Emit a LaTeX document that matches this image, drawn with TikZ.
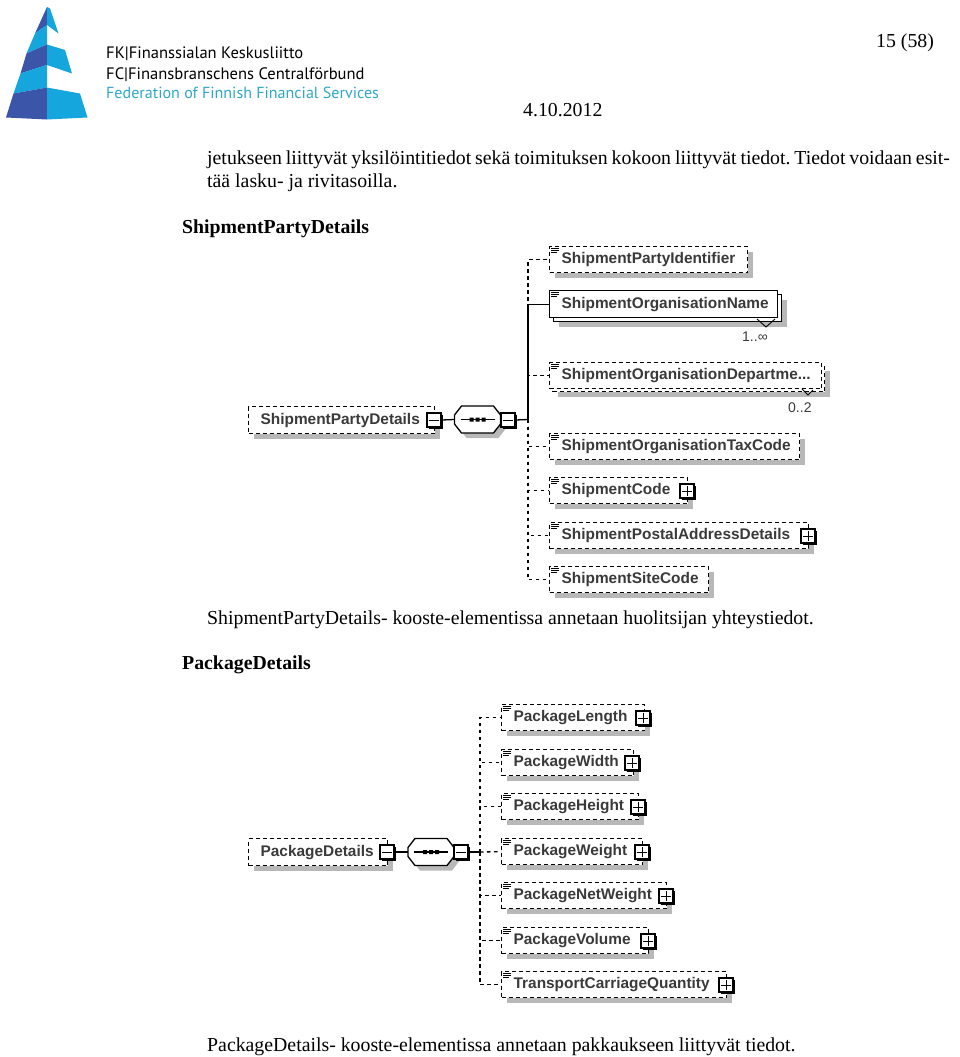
\documentclass[tikz,border=0pt]{standalone}
\usepackage{fontspec}
\setmainfont{Liberation Serif}
\newfontfamily\diagfont{Liberation Sans}
\newfontfamily\logofont{PT Sans}
\usetikzlibrary{shadows}
\definecolor{shadowgray}{HTML}{B8B8B8}
\definecolor{labelgray}{HTML}{3A3A3A}
\definecolor{logodark}{HTML}{3B56A8}
\definecolor{logolight}{HTML}{16A6DE}
\definecolor{logotext}{HTML}{2FA8C8}
\tikzset{
  softshadow/.style={drop shadow={shadow xshift=5pt,shadow yshift=-5pt,fill=shadowgray,opacity=1}},
  elbase/.style={draw=black,fill=white,line width=1.3pt,inner sep=0pt,font=\diagfont\bfseries\fontsize{15.4}{15.4}\selectfont,text=labelgray},
  frontopt/.style={elbase,dash pattern=on 4pt off 3pt},
  frontreq/.style={elbase},
  optbox/.style={frontopt,softshadow},
  reqbox/.style={frontreq,softshadow},
  rootbox/.style={optbox},
  seqanchor/.style={minimum width=46pt,minimum height=27pt,inner sep=0pt},
  seqoutline/.style={draw=black,fill=white,line width=1.3pt},
  togglebox/.style={draw=black,fill=white,line width=1.2pt,minimum width=14pt,minimum height=14pt,inner sep=0pt,drop shadow={shadow xshift=1.5pt,shadow yshift=-1.5pt,fill=black,opacity=1}},
  conn/.style={draw=black,line width=1.3pt},
  dconn/.style={conn,dash pattern=on 3.5pt off 3.5pt},
  bodytext/.style={anchor=base west,inner sep=0pt,font=\fontsize{19.8}{22}\selectfont},
  headtext/.style={bodytext,font=\bfseries\fontsize{19.8}{22}\selectfont},
  logotxt/.style={anchor=base west,inner sep=0pt,font=\logofont\fontsize{16.55}{20}\selectfont},
  occ/.style={anchor=base west,inner sep=0pt,font=\diagfont\fontsize{14}{14}\selectfont,text=labelgray},
}
% \elem{style}{name}{x1}{y1}{x2}{y2}{text}
\newcommand{\elem}[7]{%
  \pgfmathsetmacro{\ew}{#5-#3}\pgfmathsetmacro{\eh}{#6-#4}%
  \node[#1,anchor=north west,minimum height=\eh pt] (#2) at (#3,#4) {\makebox[\ew pt][l]{\hspace{12pt}\raisebox{-1pt}{#7}}};%
}
\newcommand{\elicon}[1]{%
  \draw[black,line width=1pt] ([shift={(2pt,-2.5pt)}]#1.north west) -- +(8pt,0pt)
    ([shift={(2pt,-4.6pt)}]#1.north west) -- +(8pt,0pt)
    ([shift={(2pt,-6.7pt)}]#1.north west) -- +(6pt,0pt);%
}
\newcommand{\minusbox}[3]{%
  \node[togglebox] (#1) at (#2,#3) {};
  \draw[black,line width=1pt] ([xshift=-5pt]#1.center) -- ([xshift=5pt]#1.center);%
}
\newcommand{\plusbox}[3]{%
  \node[togglebox] (#1) at (#2,#3) {};
  \draw[black,line width=1pt] ([xshift=-5pt]#1.center) -- ([xshift=5pt]#1.center)
    ([yshift=-5pt]#1.center) -- ([yshift=5pt]#1.center);%
}
% sequence compositor: invisible named node with an octagon drawn on it
\newcommand{\seqnode}[3]{%
  \fill[shadowgray,shift={(#2+5,#3+5)}] (-16,-13.5) -- (16,-13.5) -- (23,-4.5) -- (23,4.5) -- (16,13.5) -- (-16,13.5) -- (-23,4.5) -- (-23,-4.5) -- cycle;
  \path[seqoutline,shift={(#2,#3)}] (-16,-13.5) -- (16,-13.5) -- (23,-4.5) -- (23,4.5) -- (16,13.5) -- (-16,13.5) -- (-23,4.5) -- (-23,-4.5) -- cycle;
  \node[seqanchor] (#1) at (#2,#3) {};
  \draw[black,line width=1.2pt] ([xshift=-17pt]#1.center) -- ([xshift=17pt]#1.center);
  \fill[black] ([xshift=-6pt]#1.center) +(-2pt,-2pt) rectangle +(2pt,2pt)
    (#1.center) +(-2pt,-2pt) rectangle +(2pt,2pt)
    ([xshift=6pt]#1.center) +(-2pt,-2pt) rectangle +(2pt,2pt);%
}
\begin{document}
\begin{tikzpicture}[x=1pt,y=-1pt]
\useasboundingbox (0,0) rectangle (960,1057);
% logo
\fill[logodark] (47,7) -- (47,25) -- (35,33.5) -- cycle;
\fill[logolight] (47,7) -- (50,8.5) -- (58.5,33.5) -- (47,25) -- cycle;
\fill[logolight] (35,33.5) -- (47,25) -- (47,44.5) -- (26.5,53.5) -- cycle;
\fill[logodark] (47,44.5) -- (26.5,53.5) -- (20.5,73.5) -- (47,65) -- cycle;
\fill[logolight] (47,44.5) -- (65,50) -- (72,73.5) -- (47,65) -- cycle;
\fill[logolight] (20.5,73.5) -- (47,65) -- (47,87.5) -- (13.5,93.5) -- cycle;
\fill[logodark] (47,87.5) -- (13.5,93.5) -- (6,117.5) -- (47,119.5) -- cycle;
\fill[logolight] (47,87.5) -- (80,93.5) -- (87.5,117.5) -- (47,119.5) -- cycle;
\node[logotxt] (logoa) at (106,59) {FK|Finanssialan Keskusliitto};
\node[logotxt] (logob) at (106,79) {FC|Finansbranschens Centralförbund};
\node[logotxt,text=logotext,font=\logofont\fontsize{16.05}{20}\selectfont] (logoc) at (106,98.5) {Federation of Finnish Financial Services};
% page text
\node[bodytext] (page) at (876,48) {15 (58)};
\node[bodytext] (date) at (523,116) {4.10.2012};
\node[bodytext] (para1) at (207,164) {\frenchspacing\spaceskip=3.9pt jetukseen liittyvät yksilöintitiedot sekä toimituksen kokoon liittyvät tiedot. Tiedot voidaan esit-};
\node[bodytext] (para2) at (207,187) {tää lasku- ja rivitasoilla.};
\node[headtext] (head1) at (182,233) {ShipmentPartyDetails};
\node[bodytext] (cap1) at (207,624) {ShipmentPartyDetails- kooste-elementissa annetaan huolitsijan yhteystiedot.};
\node[headtext] (head2) at (182,669) {PackageDetails};
\node[bodytext] (cap2) at (207,1051) {PackageDetails- kooste-elementissa annetaan pakkaukseen liittyvät tiedot.};
% ---- top diagram
\coordinate (jt) at (528,419.5);
\elem{optbox}{sa}{549}{246}{747}{272}{ShipmentPartyIdentifier}
\elem{reqbox}{sbb}{553}{294}{781}{321}{}
\elem{frontreq}{sb}{549}{290}{777}{317}{ShipmentOrganisationName}
\elem{optbox}{scc}{552}{365}{824}{391}{}
\elem{frontopt}{sc}{549}{362}{821}{388}{ShipmentOrganisationDepartme...}
\elem{optbox}{sd}{549}{433}{799}{459}{ShipmentOrganisationTaxCode}
\elem{optbox}{se}{549}{477}{687}{503}{ShipmentCode}
\elem{optbox}{sf}{549}{522}{808}{548}{ShipmentPostalAddressDetails}
\elem{optbox}{sg}{549}{566}{708}{592}{ShipmentSiteCode}
\foreach \n in {sa,sb,sc,sd,se,sf,sg} {\elicon{\n}}
\draw[black,line width=.9pt] (757,319) -- (766,327) -- (775,319);
\draw[black,line width=.9pt] (802,389) -- (808,395) -- (813,390);
\draw[dconn] (jt) |- (sa.west);
\draw[dconn] (jt) |- (sc.west);
\draw[dconn] (jt) |- (sd.west);
\draw[dconn] (jt) |- (se.west);
\draw[dconn] (jt) |- (sf.west);
\draw[dconn] (jt) |- (sg.west);
\draw[conn] (jt) |- (sb.west);
\plusbox{spe}{687}{491}
\plusbox{spf}{808}{536}
\node[occ] (occa) at (742,341) {1..∞};
\node[occ] (occb) at (788,412) {0..2};
\elem{rootbox}{sr}{248}{406}{434}{433}{ShipmentPartyDetails}
\minusbox{smr}{434}{420}
\seqnode{sq}{477.5}{419.5}
\minusbox{smq}{508}{420}
\draw[conn] (smr.east) -- (sq.west);
\draw[conn] (smq.east) -- (jt);
% ---- bottom diagram
\coordinate (jb) at (480,852);
\elem{optbox}{pa}{501}{704}{644}{730}{PackageLength}
\elem{optbox}{pb}{501}{749}{633}{775}{PackageWidth}
\elem{optbox}{pc}{501}{793}{638}{819}{PackageHeight}
\elem{optbox}{pd}{501}{838}{642}{864}{PackageWeight}
\elem{optbox}{pe}{501}{882}{666}{908}{PackageNetWeight}
\elem{optbox}{pf}{501}{927}{648}{953}{PackageVolume}
\elem{optbox}{pg}{501}{971}{726}{997}{TransportCarriageQuantity}
\foreach \n in {pa,pb,pc,pd,pe,pf,pg} {\elicon{\n}}
\draw[dconn] (jb) |- (pa.west);
\draw[dconn] (jb) |- (pb.west);
\draw[dconn] (jb) |- (pc.west);
\draw[dconn] (jb) -- (pd.west);
\draw[dconn] (jb) |- (pe.west);
\draw[dconn] (jb) |- (pf.west);
\draw[dconn] (jb) |- (pg.west);
\plusbox{ppa}{643}{718}
\plusbox{ppb}{632}{763}
\plusbox{ppc}{638}{807}
\plusbox{ppd}{642}{852}
\plusbox{ppe}{666}{896}
\plusbox{ppf}{648}{941}
\plusbox{ppg}{726}{985}
\elem{rootbox}{pr}{248}{838}{387}{865}{PackageDetails}
\minusbox{pmr}{387}{852}
\seqnode{pq}{431}{852}
\minusbox{pmq}{461}{852}
\draw[conn] (pmr.east) -- (pq.west);
\draw[conn] (pmq.east) -- (jb);
\end{tikzpicture}
\end{document}
